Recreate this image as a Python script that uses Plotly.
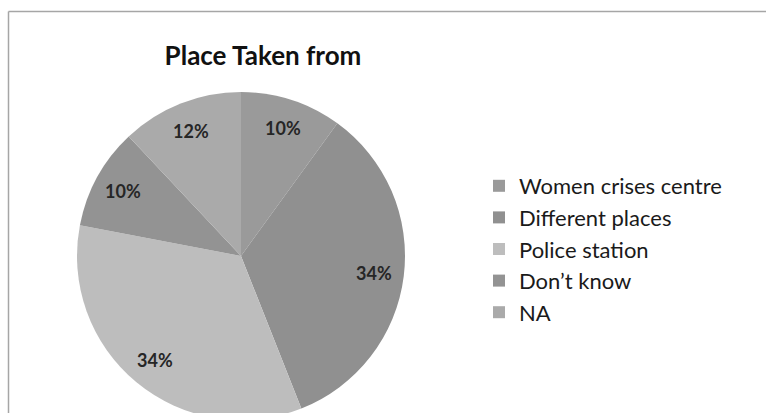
import math
import plotly.graph_objects as go

# Data
categories = ["Women crises centre", "Different places", "Police station", "Don\u2019t know", "NA"]
shares = [10, 34, 34, 10, 12]
slice_colors = ["#9a9a9a", "#909090", "#bdbdbd", "#939393", "#aaaaaa"]

# Canvas and pie geometry (pixels)
W, H = 766, 430
CX, CY, R = 241, 256, 164
LABEL_R = 0.82  # label distance from centre, as a fraction of the radius

FONT = "Lato, 'Open Sans', sans-serif"

def px_to_paper(x, y):
    return x / W, 1 - y / H

x0, _ = px_to_paper(CX - R, 0)
x1, _ = px_to_paper(CX + R, 0)
_, y1 = px_to_paper(0, CY - R)
_, y0 = px_to_paper(0, CY + R)

fig = go.Figure(
    go.Pie(
        labels=categories,
        values=shares,
        sort=False,
        direction="clockwise",
        rotation=0,
        marker=dict(colors=slice_colors, line=dict(width=0)),
        textinfo="none",
        hoverinfo="label+percent",
        domain=dict(x=[x0, x1], y=[y0, y1]),
    )
)

# Percentage labels placed at each slice's mid-angle
total = sum(shares)
annotations = []
cum = 0
for v in shares:
    mid = (cum + v / 2) / total * 2 * math.pi
    cum += v
    lx = CX + LABEL_R * R * math.sin(mid)
    ly = CY - LABEL_R * R * math.cos(mid)
    ax, ay = px_to_paper(lx, ly)
    annotations.append(dict(
        x=ax, y=ay, xref="paper", yref="paper",
        text=f"<b>{round(v / total * 100)}%</b>",
        showarrow=False, xanchor="center", yanchor="middle",
        font=dict(family=FONT, size=18, color="#262626"),
    ))

# Chart frame (left and top edges visible)
bx0, by0 = px_to_paper(8.5, 11.5)
shapes = [
    dict(type="line", xref="paper", yref="paper", x0=bx0, y0=by0, x1=1.01, y1=by0,
         line=dict(color="#a6a6a6", width=1.5)),
    dict(type="line", xref="paper", yref="paper", x0=bx0, y0=by0, x1=bx0, y1=-0.01,
         line=dict(color="#a6a6a6", width=1.5)),
]

tx, ty = px_to_paper(263, 56)
lgx, lgy = px_to_paper(479, 249)

fig.update_layout(
    width=W, height=H,
    margin=dict(l=0, r=0, t=0, b=0),
    paper_bgcolor="white",
    title=dict(text="<b>Place Taken from</b>", x=tx, y=ty, xanchor="center", yanchor="middle",
               font=dict(family=FONT, size=26, color="#111111")),
    legend=dict(x=lgx, y=lgy, xanchor="left", yanchor="middle",
                font=dict(family=FONT, size=22, color="#1a1a1a"),
                itemsizing="constant", tracegroupgap=0),
    annotations=annotations,
    shapes=shapes,
)

fig.write_html("out.html", post_script="document.body.style.overflow='hidden';")
